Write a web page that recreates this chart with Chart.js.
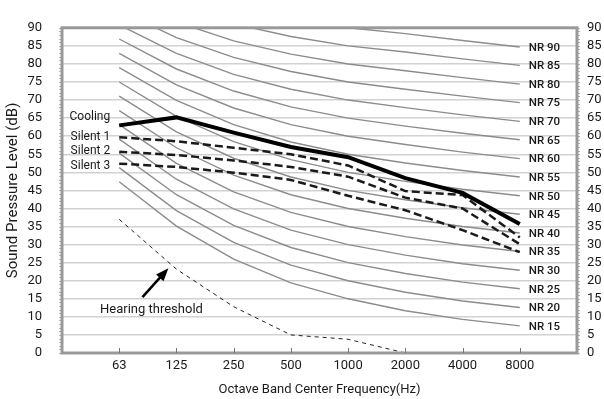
<!DOCTYPE html>
<html lang="en">
<head>
    <meta charset="UTF-8">
    <title>NR curves</title>
    <script src="https://cdn.jsdelivr.net/npm/chart.js"></script>
    <style>
        body { margin: 0; background: #fff; }
        #wrap { width: 604px; height: 399px; }
    </style>
</head>
<body>
<div id="wrap"><canvas id="myChart" width="604" height="399"></canvas></div>
<script>
    // Octave band centre frequencies (x categories)
    const freqs = ['63', '125', '250', '500', '1000', '2000', '4000', '8000'];

    // NR reference curves, values at each band (dB)
    const nr15 = [47.4, 35.1, 26.0, 19.4, 15, 11.7, 9.3, 7.5];
    const nr20 = [51.3, 39.4, 30.6, 24.3, 20, 16.8, 14.4, 12.6];
    const nr25 = [55.3, 43.8, 35.3, 29.2, 25, 22.0, 19.6, 17.8];
    const nr30 = [59.2, 48.1, 39.9, 34.0, 30, 27.1, 24.7, 22.9];
    const nr35 = [63.2, 52.5, 44.6, 38.9, 35, 32.2, 29.9, 28.1];
    const nr40 = [67.1, 56.8, 49.2, 43.8, 40, 37.3, 35.0, 33.2];
    const nr45 = [71.1, 61.2, 53.9, 48.7, 45, 42.4, 40.2, 38.4];
    const nr50 = [75.0, 65.5, 58.5, 53.5, 50, 47.5, 45.3, 43.5];
    const nr55 = [79.0, 69.9, 63.2, 58.4, 55, 52.6, 50.5, 48.7];
    const nr60 = [82.9, 74.2, 67.8, 63.2, 60, 57.7, 55.6, 53.8];
    const nr65 = [86.9, 78.6, 72.5, 68.1, 65, 62.8, 60.8, 59.0];
    const nr70 = [90.8, 82.9, 77.1, 73.0, 70, 67.9, 65.9, 64.1];
    const nr75 = [94.8, 87.3, 81.8, 77.9, 75, 73.0, 71.1, 69.3];
    const nr80 = [98.7, 91.6, 86.4, 82.7, 80, 78.1, 76.2, 74.4];
    const nr85 = [102.7, 96.0, 91.1, 87.6, 85, 83.3, 81.4, 79.6];
    const nr90 = [106.6, 100.3, 95.7, 92.5, 90, 88.4, 86.5, 84.7];
    const nrNames = ['NR 15', 'NR 20', 'NR 25', 'NR 30', 'NR 35', 'NR 40', 'NR 45', 'NR 50',
                     'NR 55', 'NR 60', 'NR 65', 'NR 70', 'NR 75', 'NR 80', 'NR 85', 'NR 90'];
    const nrCurves = [nr15, nr20, nr25, nr30, nr35, nr40, nr45, nr50,
                      nr55, nr60, nr65, nr70, nr75, nr80, nr85, nr90];

    // Measured unit levels (dB)
    const cooling = [63.0, 65.2, 61.0, 57.0, 54.2, 48.4, 44.3, 35.7];
    const silent1 = [59.7, 58.6, 56.8, 55.0, 51.9, 44.8, 43.7, 32.0];
    const silent2 = [55.7, 54.8, 53.3, 51.5, 48.8, 43.0, 40.0, 30.1];
    const silent3 = [52.4, 51.5, 49.9, 47.9, 43.5, 39.5, 34.0, 27.9];
    const hearing = [37.0, 23.2, 12.8, 5.0, 3.8, 0, null, null];

    const seriesNames = ['Cooling', 'Silent 1', 'Silent 2', 'Silent 3'];
    const FONT = 'Roboto, "Open Sans", sans-serif';

    function pts(vals) {
        return vals.map((v, i) => ({ x: i, y: v }));
    }

    let datasets = [];
    nrCurves.forEach((c, i) => {
        datasets.push({ label: nrNames[i], data: pts(c), borderColor: '#8c8c8c', borderWidth: 1.4, order: 5 });
    });
    datasets.push({ label: 'Hearing threshold', data: pts(hearing), borderColor: '#222', borderWidth: 1, borderDash: [4, 4], order: 4 });
    datasets.push({ label: seriesNames[3], data: pts(silent3), borderColor: '#1a1a1a', borderWidth: 2.5, borderDash: [8, 4], order: 2 });
    datasets.push({ label: seriesNames[2], data: pts(silent2), borderColor: '#1a1a1a', borderWidth: 2.5, borderDash: [8, 4], order: 2 });
    datasets.push({ label: seriesNames[1], data: pts(silent1), borderColor: '#1a1a1a', borderWidth: 2.5, borderDash: [8, 4], order: 2 });
    datasets.push({ label: seriesNames[0], data: pts(cooling), borderColor: '#000', borderWidth: 4, order: 1 });

    // Frame, small ticks and text annotations
    const decor = {
        id: 'decor',
        afterDatasetsDraw(chart) {
            const { ctx, chartArea: a, scales: { x, y } } = chart;
            ctx.save();

            // ruler ticks on the side borders
            ctx.strokeStyle = '#b5b5b5';
            ctx.lineWidth = 1;
            for (let v = 0; v <= 90; v++) {
                let py = Math.round(y.getPixelForValue(v)) + 0.5;
                ctx.beginPath();
                ctx.moveTo(a.left - 3, py); ctx.lineTo(a.left, py);
                ctx.moveTo(a.right, py); ctx.lineTo(a.right + 3, py);
                ctx.stroke();
            }

            // frame
            ctx.strokeStyle = '#999';
            ctx.lineWidth = 3;
            ctx.strokeRect(a.left, a.top, a.right - a.left, a.bottom - a.top);

            // small category ticks on the bottom edge
            ctx.strokeStyle = '#777';
            ctx.lineWidth = 1;
            freqs.forEach((f, i) => {
                let px = Math.round(x.getPixelForValue(i)) + 0.5;
                ctx.beginPath();
                ctx.moveTo(px, a.bottom - 5); ctx.lineTo(px, a.bottom);
                ctx.stroke();
            });

            // NR labels at the right end of each curve
            ctx.fillStyle = '#1a1a1a';
            ctx.font = '500 11.5px ' + FONT;
            ctx.textAlign = 'left';
            ctx.textBaseline = 'middle';
            const xEnd = x.getPixelForValue(freqs.length - 1);
            nrCurves.forEach((c, i) => {
                ctx.fillText(nrNames[i], xEnd + 9, y.getPixelForValue(c[c.length - 1]) + 1);
            });

            // series labels left of the first band
            ctx.font = '12px ' + FONT;
            ctx.textAlign = 'right';
            const x0 = x.getPixelForValue(0) - 9;
            const firsts = [cooling[0], silent1[0], silent2[0], silent3[0]];
            const shift = [-8, 0, -1, 2];
            seriesNames.forEach((n, i) => {
                ctx.fillText(n, x0, y.getPixelForValue(firsts[i]) + shift[i]);
            });

            // hearing threshold label and arrow
            const hx = x.getPixelForValue(1), hy = y.getPixelForValue(hearing[1]);
            ctx.font = '13px ' + FONT;
            ctx.textAlign = 'center';
            ctx.fillText('Hearing threshold', hx - 25, hy + 41);
            const tipX = hx - 8, tipY = hy - 1, tailX = hx - 34, tailY = hy + 28;
            const ang = Math.atan2(tipY - tailY, tipX - tailX);
            ctx.strokeStyle = '#000';
            ctx.lineWidth = 2.5;
            ctx.beginPath();
            ctx.moveTo(tailX, tailY);
            ctx.lineTo(tipX - 9 * Math.cos(ang), tipY - 9 * Math.sin(ang));
            ctx.stroke();
            ctx.fillStyle = '#000';
            ctx.beginPath();
            ctx.moveTo(tipX, tipY);
            ctx.lineTo(tipX - 13 * Math.cos(ang) + 5 * Math.sin(ang), tipY - 13 * Math.sin(ang) - 5 * Math.cos(ang));
            ctx.lineTo(tipX - 13 * Math.cos(ang) - 5 * Math.sin(ang), tipY - 13 * Math.sin(ang) + 5 * Math.cos(ang));
            ctx.closePath();
            ctx.fill();

            ctx.restore();
        }
    };

    const yTickOpts = (pad) => ({
        stepSize: 5,
        autoSkip: false,
        padding: pad,
        color: '#1a1a1a',
        font: { family: FONT, size: 13 }
    });

    new Chart(document.getElementById('myChart').getContext('2d'), {
        type: 'line',
        data: { datasets: datasets },
        options: {
            responsive: false,
            animation: false,
            events: [],
            layout: { padding: { top: 16, right: 0, bottom: 0, left: 0 } },
            elements: { point: { radius: 0 }, line: { tension: 0 } },
            plugins: { legend: { display: false }, tooltip: { enabled: false } },
            scales: {
                x: {
                    type: 'linear',
                    min: -1,
                    max: 8,
                    grid: { display: false, drawTicks: false },
                    border: { display: false },
                    ticks: {
                        stepSize: 1,
                        autoSkip: false,
                        maxRotation: 0,
                        padding: 5,
                        color: '#1a1a1a',
                        font: { family: FONT, size: 13 },
                        callback: (v) => freqs[v] !== undefined ? freqs[v] : ''
                    },
                    title: {
                        display: true,
                        text: 'Octave Band Center Frequency(Hz)',
                        color: '#1a1a1a',
                        font: { family: FONT, size: 13 },
                        padding: { top: 0, bottom: 1 }
                    },
                    afterFit: (s) => { s.height = 46; }
                },
                y: {
                    position: 'left',
                    min: 0,
                    max: 90,
                    grid: { color: '#d2d2d2', lineWidth: 1.5, drawTicks: false },
                    border: { display: false },
                    ticks: yTickOpts(20),
                    title: {
                        display: true,
                        text: 'Sound Pressure Level (dB)',
                        color: '#1a1a1a',
                        font: { family: FONT, size: 15 },
                        padding: { top: 4, bottom: 0 }
                    },
                    afterFit: (s) => { s.width = 62; }
                },
                y2: {
                    position: 'right',
                    min: 0,
                    max: 90,
                    grid: { display: false, drawTicks: false },
                    border: { display: false },
                    ticks: yTickOpts(10),
                    afterFit: (s) => { s.width = 27; }
                }
            }
        },
        plugins: [decor]
    });
</script>
</body>
</html>
